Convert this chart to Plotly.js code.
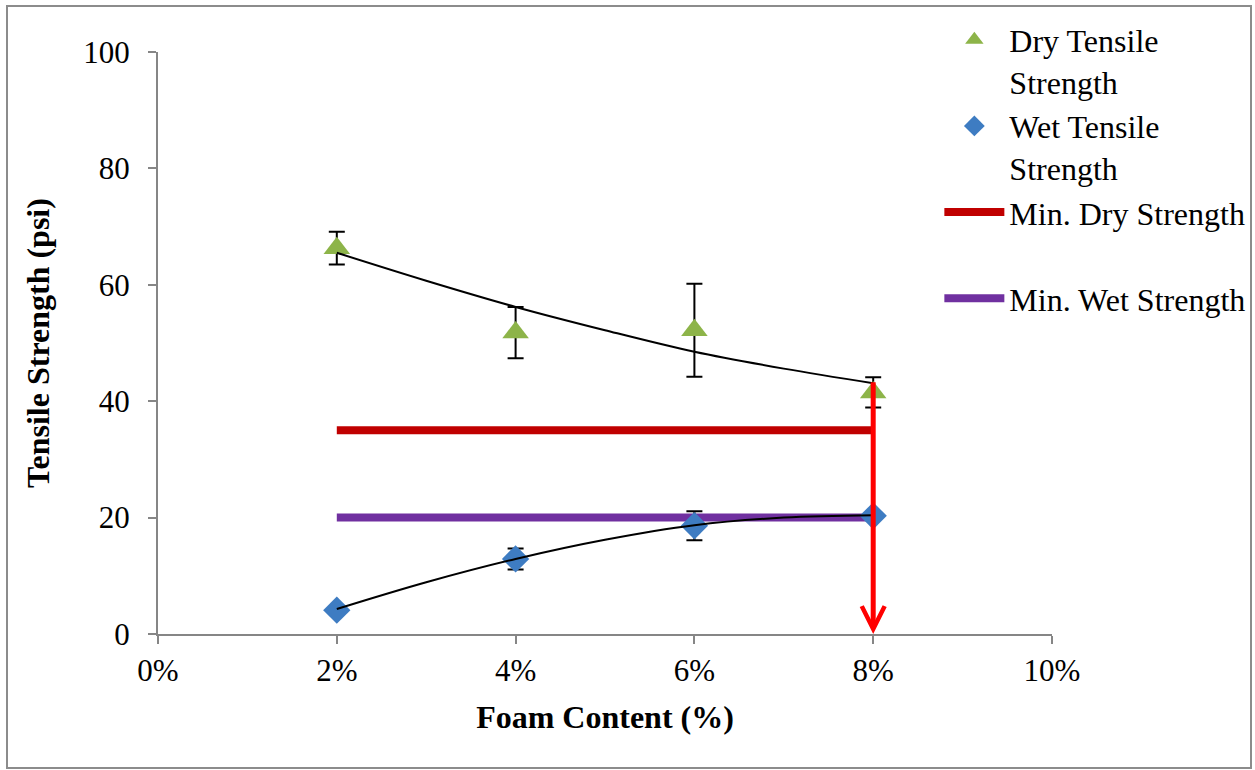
<!DOCTYPE html>
<html>
<head>
<meta charset="utf-8">
<script src="https://cdn.plot.ly/plotly-3.0.1.min.js"></script>
<style>
  html, body { margin: 0; padding: 0; background: #fff; }
  #chart { width: 1255px; height: 770px; }
  #frame { position: absolute; left: 6px; top: 5px; width: 1242px; height: 760px; border: 2px solid #8c8c8c; pointer-events: none; }
</style>
</head>
<body>
<div id="chart"></div>
<div id="frame"></div>
<script>
// Foam content (%)
const foam = [2, 4, 6, 8];
// Dry tensile strength (psi) and error
const dryStrength = [66.3, 51.8, 52.2, 41.5];
const dryError = [2.8, 4.4, 8.0, 2.6];
// Wet tensile strength (psi) and error
const wetStrength = [4.1, 12.9, 18.6, 20.3];
const wetError = [0.6, 1.8, 2.5, 0.4];
// Trend lines
const trendX = [2, 3, 4, 5, 6, 7, 8];
const dryTrend = [65.5, 60.7, 56.2, 52.2, 48.5, 45.6, 43.1];
const wetTrend = [4.3, 8.9, 12.9, 16.2, 18.7, 20.0, 20.4];
// Minimum strength requirements
const minX = [2, 8];
const minDry = [35, 35];
const minWet = [20, 20];
// Arrow: selected foam content, from dry trend down to axis
const arrowX = 8;
const arrowTop = 43.5;
const arrowBottom = 0;
// Tick labels
const xTicks = [0, 2, 4, 6, 8, 10];
const yTicks = [0, 20, 40, 60, 80, 100];

const serif = "Liberation Serif";

const traces = [
  { x: minX, y: minDry, mode: 'lines', name: 'Min. Dry Strength<br> ',
    line: { color: '#C00000', width: 8 }, legendrank: 3, legendgroup: 'c' },
  { x: minX, y: minWet, mode: 'lines', name: 'Min. Wet Strength',
    line: { color: '#7030A0', width: 8 }, legendrank: 4, legendgroup: 'd' },
  { x: foam, y: dryStrength, mode: 'markers', name: 'Dry Tensile<br>Strength',
    marker: { symbol: 'triangle-up', size: 23, color: '#8DB449' },
    error_y: { type: 'data', array: dryError, color: '#000', thickness: 2, width: 8 },
    legendrank: 1, legendgroup: 'a' },
  { x: foam, y: wetStrength, mode: 'markers', name: 'Wet Tensile<br>Strength',
    marker: { symbol: 'diamond', size: 21, color: '#3E7CC2' },
    error_y: { type: 'data', array: wetError, color: '#000', thickness: 2, width: 8 },
    legendrank: 2, legendgroup: 'b' },
  { x: trendX, y: dryTrend, mode: 'lines', line: { color: '#000', width: 2, shape: 'spline' },
    showlegend: false, hoverinfo: 'skip' },
  { x: trendX, y: wetTrend, mode: 'lines', line: { color: '#000', width: 2, shape: 'spline' },
    showlegend: false, hoverinfo: 'skip' }
];

const layout = {
  width: 1255, height: 770,
  margin: { l: 158, r: 203, t: 52, b: 136, autoexpand: false },
  paper_bgcolor: '#fff', plot_bgcolor: '#fff',
  font: { family: serif, size: 31, color: '#000' },
  showlegend: true,
  legend: {
    x: 0.874, xanchor: 'left', y: 1.068, yanchor: 'top',
    valign: 'top', itemwidth: 60, tracegroupgap: 0,
    font: { family: serif, size: 32, color: '#000' },
    bgcolor: 'rgba(0,0,0,0)'
  },
  xaxis: {
    range: [0, 10], tickvals: xTicks, ticktext: xTicks.map(v => v + '%'),
    showgrid: false, zeroline: false, showline: true, linecolor: '#868686', linewidth: 2,
    ticks: 'outside', ticklen: 8, tickwidth: 2, tickcolor: '#868686',
    tickfont: { family: serif, size: 31, color: '#000' },
    title: { text: '<b>Foam Content (%)</b>', standoff: 18, font: { family: serif, size: 32 } }
  },
  yaxis: {
    range: [0, 100], tickvals: yTicks,
    showgrid: false, zeroline: false, showline: true, linecolor: '#868686', linewidth: 2,
    ticks: 'outside', ticklen: 8, tickwidth: 2, tickcolor: '#868686',
    ticklabelstandoff: 12,
    tickfont: { family: serif, size: 31, color: '#000' },
    title: { text: '<b>Tensile Strength (psi)</b>', standoff: 24, font: { family: serif, size: 32 } }
  },
  annotations: [{
    x: arrowX, y: arrowBottom, ax: arrowX, ay: arrowTop, axref: 'x', ayref: 'y',
    xref: 'x', yref: 'y', text: '', showarrow: true,
    arrowhead: 5, arrowsize: 0.9, arrowwidth: 5, arrowcolor: '#FF0000'
  }]
};

Plotly.newPlot('chart', traces, layout, { displayModeBar: false, staticPlot: true });
</script>
</body>
</html>
